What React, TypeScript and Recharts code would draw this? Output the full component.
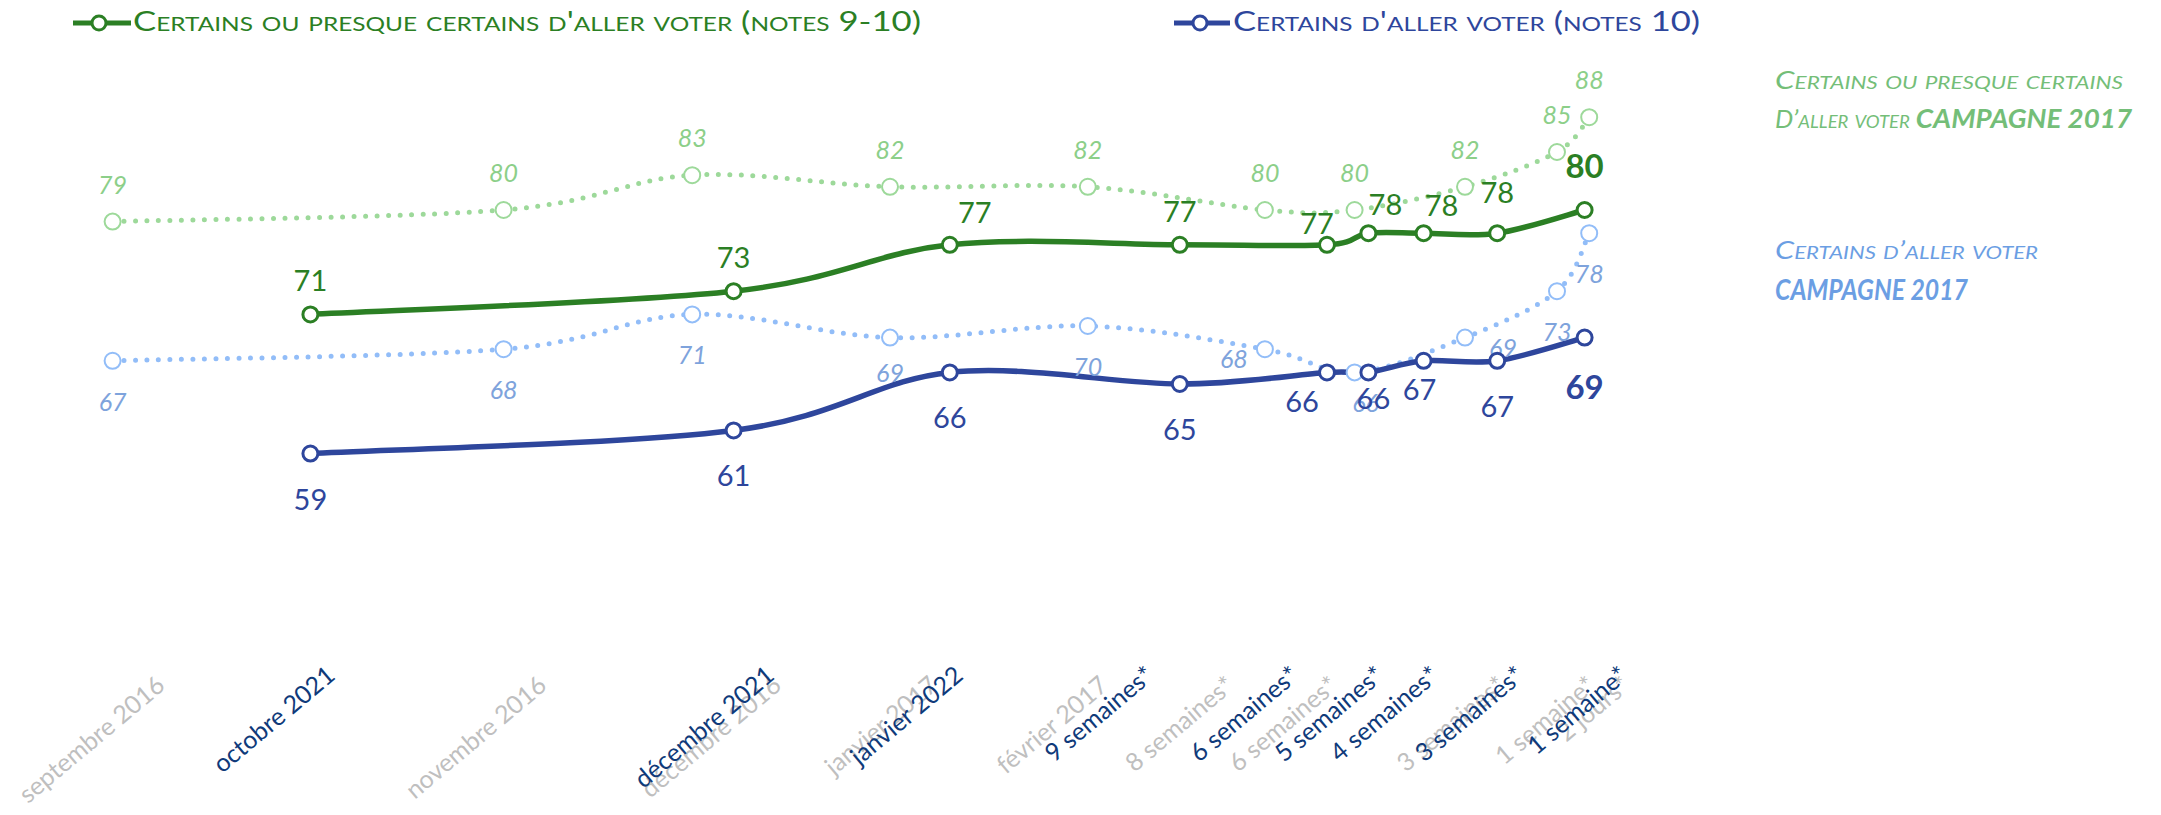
import React from 'react';
import { LineChart, Line, XAxis, YAxis } from 'recharts';

// position des vagues : semaines avant le 1er tour
const weeks2022 = [-28.1, -18.9, -14.2, -9.2, -6.0, -5.1, -3.9, -2.3, -0.4];
const sure2022 = [71, 73, 77, 77, 77, 78, 78, 78, 80]; // notes 9-10
const certain2022 = [59, 61, 66, 65, 66, 66, 67, 67, 69]; // notes 10

const weeks2017 = [-32.4, -23.9, -19.8, -15.5, -11.2, -7.35, -5.4, -3.0, -1.0, -0.3];
const sure2017 = [79, 80, 83, 82, 82, 80, 80, 82, 85, 88];
const certain2017 = [67, 68, 71, 69, 70, 68, 66, 69, 73, 78];

const labels2022 = ['octobre 2021', 'décembre 2021', 'janvier 2022', '9 semaines*', '6 semaines*', '5 semaines*', '4 semaines*', '3 semaines*', '1 semaine*'];
const labelAt2022 = [-28.4, -18.85, -14.75, -10.6, -7.45, -5.6, -4.4, -2.55, -0.3];
const labels2017 = ['septembre 2016', 'novembre 2016', 'décembre 2016', 'janvier 2017', 'février 2017', '8 semaines*', '6 semaines*', '3 semaines*', '1 semaine*', '2 jours*'];
const labelAt2017 = [-32.1, -23.8, -18.7, -15.3, -11.6, -8.85, -6.6, -2.95, -1.0, -0.25];

const data2022 = weeks2022.map((w, i) => ({ w, sure: sure2022[i], certain: certain2022[i] }));
const data2017 = weeks2017.map((w, i) => ({ w, sure: sure2017[i], certain: certain2017[i] }));

const FONT = 'Lato, "Liberation Sans", sans-serif';
const GREEN = '#2B7F24';
const NAVY = '#2E469C';
const LGREEN_LINE = '#9DD99A';
const LGREEN_TXT = '#8CCF89';
const LBLUE_LINE = '#92BDF8';
const LBLUE_TXT = '#7EA3DC';

// lissage façon Excel (Catmull-Rom uniforme)
function excelCurve(context: any) {
  let pts: number[][] = [];
  return {
    areaStart() {},
    areaEnd() {},
    lineStart() { pts = []; },
    point(x: number, y: number) { pts.push([+x, +y]); },
    lineEnd() {
      if (!pts.length) return;
      context.moveTo(pts[0][0], pts[0][1]);
      for (let i = 0; i < pts.length - 1; i++) {
        const p0 = pts[i - 1] || pts[i];
        const p1 = pts[i];
        const p2 = pts[i + 1];
        const p3 = pts[i + 2] || p2;
        context.bezierCurveTo(
          p1[0] + (p2[0] - p0[0]) / 6, p1[1] + (p2[1] - p0[1]) / 6,
          p2[0] - (p3[0] - p1[0]) / 6, p2[1] - (p3[1] - p1[1]) / 6,
          p2[0], p2[1]
        );
      }
    },
  };
}

// petits décalages des étiquettes, comme dans l'original
const nudgeSure22: Record<number, [number, number]> = { 2: [25, -22], 4: [-10, -11], 5: [17, -18], 6: [18, -17], 7: [0, -30], 8: [0, -32] };
const nudgeCert22: Record<number, [number, number]> = { 4: [-25, 40], 5: [5, 37], 6: [-4, 39], 8: [0, 61] };
const nudgeCert17: Record<number, [number, number]> = { 3: [0, 44], 5: [-31, 19], 6: [11, 40], 7: [38, 19] };

function dot22(color: string, nudge: Record<number, [number, number]>, dy: number, last: number) {
  return (p: any) => {
    const [ox, oy] = nudge[p.index] || [0, dy];
    const big = p.index === last;
    return (
      <g key={'d' + p.index}>
        <circle cx={p.cx} cy={p.cy} r={7.5} fill="#fff" stroke={color} strokeWidth={3} />
        <text x={p.cx + ox} y={p.cy + oy} textAnchor="middle" fill={color} fontFamily={FONT}
          fontSize={big ? 33 : 29} fontWeight={big ? 700 : 400}>{p.payload[p.dataKey]}</text>
      </g>
    );
  };
}

function dot17(color: string, txt: string, nudge: Record<number, [number, number]>, dy: number) {
  return (p: any) => {
    const [ox, oy] = nudge[p.index] || [0, dy];
    return (
      <g key={'d' + p.index}>
        <circle cx={p.cx} cy={p.cy} r={8} fill="#fff" stroke={color} strokeWidth={2} />
        <text x={p.cx + ox} y={p.cy + oy} textAnchor="middle" fill={txt} fontFamily={FONT}
          fontSize={25} fontStyle="italic">{p.payload[p.dataKey]}</text>
      </g>
    );
  };
}

function makeTick(labels: string[], at: number[], color: string, ay: number) {
  return (p: any) => {
    const v = p.payload.value;
    let i = 0;
    at.forEach((a, k) => { if (Math.abs(a - v) < Math.abs(at[i] - v)) i = k; });
    const x = p.x + 40;
    return (
      <text x={x} y={ay} transform={`rotate(-40, ${x}, ${ay})`} textAnchor="end" fill={color}
        fontFamily={FONT} fontSize={25}>{labels[i]}</text>
    );
  };
}

export default function App() {
  return (
    <div style={{ position: 'absolute', left: 0, top: 0, width: 2161, height: 815, background: '#fff' }}>
      <LineChart width={2161} height={815} margin={{ top: 36, right: 512, bottom: 139, left: 39 }}>
        <XAxis xAxisId="x17" dataKey="w" type="number" domain={[-34, 1]} allowDataOverflow height={1}
          ticks={labelAt2017} interval={0} axisLine={false} tickLine={false}
          tick={makeTick(labels2017, labelAt2017, '#BFBFBF', 688)} />
        <XAxis xAxisId="x22" dataKey="w" type="number" domain={[-34, 1]} allowDataOverflow height={1}
          ticks={labelAt2022} interval={0} axisLine={false} tickLine={false}
          tick={makeTick(labels2022, labelAt2022, '#0F3A7A', 678)} />
        <YAxis domain={[40, 95]} allowDataOverflow hide />
        <Line xAxisId="x17" data={data2017} dataKey="sure" type={excelCurve as any} stroke={LGREEN_LINE}
          strokeWidth={5} strokeDasharray="0 11.5" strokeLinecap="round" isAnimationActive={false}
          dot={dot17(LGREEN_LINE, LGREEN_TXT, {}, -28)} activeDot={false} />
        <Line xAxisId="x17" data={data2017} dataKey="certain" type={excelCurve as any} stroke={LBLUE_LINE}
          strokeWidth={5} strokeDasharray="0 11.5" strokeLinecap="round" isAnimationActive={false}
          dot={dot17(LBLUE_LINE, LBLUE_TXT, nudgeCert17, 50)} activeDot={false} />
        <Line xAxisId="x22" data={data2022} dataKey="sure" type={excelCurve as any} stroke={GREEN}
          strokeWidth={5.5} isAnimationActive={false}
          dot={dot22(GREEN, nudgeSure22, -23, 8)} activeDot={false} />
        <Line xAxisId="x22" data={data2022} dataKey="certain" type={excelCurve as any} stroke={NAVY}
          strokeWidth={5.5} isAnimationActive={false}
          dot={dot22(NAVY, nudgeCert22, 56, 8)} activeDot={false} />
      </LineChart>
      <svg width={2161} height={815} style={{ position: 'absolute', left: 0, top: 0, pointerEvents: 'none' }}
        fontFamily={FONT}>
        <line x1={73} y1={23} x2={131} y2={23} stroke={GREEN} strokeWidth={5} />
        <circle cx={99} cy={23} r={7} fill="#fff" stroke={GREEN} strokeWidth={3} />
        <text x={133} y={31} fill={GREEN} fontSize={27} style={{ fontVariant: 'small-caps' }}
          textLength={788} lengthAdjust="spacingAndGlyphs">Certains ou presque certains d'aller voter (notes 9-10)</text>
        <line x1={1174} y1={23} x2={1230} y2={23} stroke={NAVY} strokeWidth={5} />
        <circle cx={1200} cy={23} r={7} fill="#fff" stroke={NAVY} strokeWidth={3} />
        <text x={1233} y={31} fill={NAVY} fontSize={27} style={{ fontVariant: 'small-caps' }}
          textLength={467} lengthAdjust="spacingAndGlyphs">Certains d'aller voter (notes 10)</text>

        <text x={1775} y={89} fill="#74BE78" fontSize={25} fontStyle="italic" style={{ fontVariant: 'small-caps' }}
          textLength={348} lengthAdjust="spacingAndGlyphs">Certains ou presque certains</text>
        <text x={1775} y={128} fill="#74BE78" fontSize={25} fontStyle="italic" style={{ fontVariant: 'small-caps' }}
          textLength={357} lengthAdjust="spacingAndGlyphs">D’aller voter <tspan fontWeight={700} fontSize={27} style={{ fontVariant: 'normal' }}>CAMPAGNE 2017</tspan></text>
        <text x={1775} y={259} fill="#6B9EE3" fontSize={25} fontStyle="italic" style={{ fontVariant: 'small-caps' }}
          textLength={263} lengthAdjust="spacingAndGlyphs">Certains d’aller voter</text>
        <text x={1775} y={300} fill="#6B9EE3" fontSize={29} fontStyle="italic" fontWeight={700}
          textLength={193} lengthAdjust="spacingAndGlyphs">CAMPAGNE 2017</text>
      </svg>
    </div>
  );
}
